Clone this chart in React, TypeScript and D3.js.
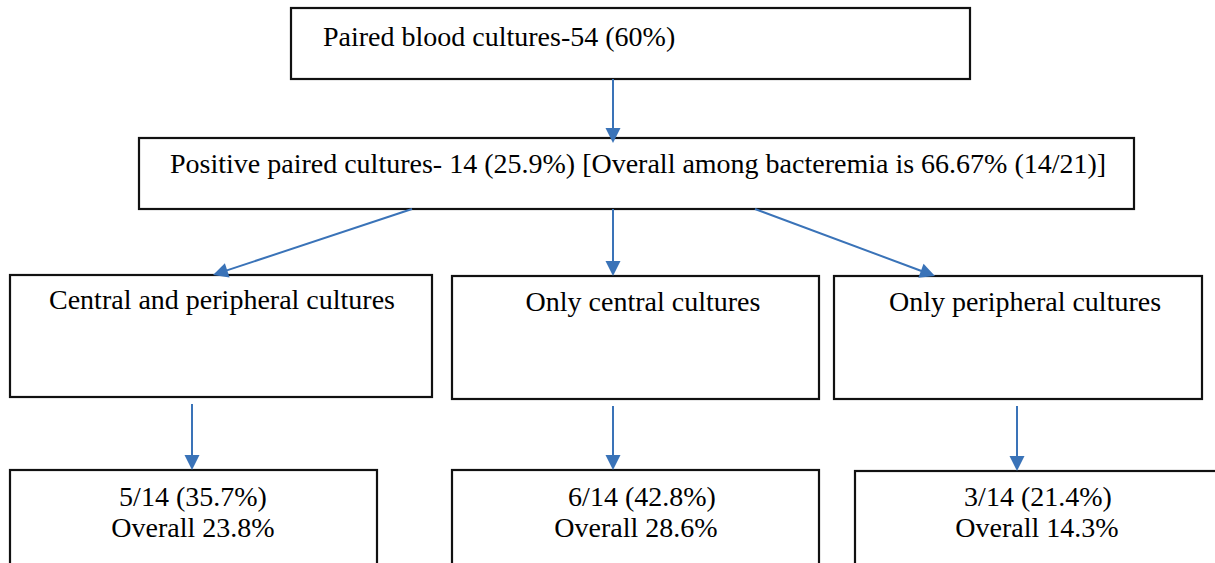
import React, { useEffect, useRef } from 'react';
import * as d3 from 'd3';

// chart text
const topLabel = 'Paired blood cultures-54 (60%)';
const positiveLabel = 'Positive paired cultures- 14 (25.9%) [Overall among bacteremia is 66.67% (14/21)]';
const groupLabels = ['Central and peripheral cultures', 'Only central cultures', 'Only peripheral cultures'];
const groupFractions = ['5/14 (35.7%)', '6/14 (42.8%)', '3/14 (21.4%)'];
const groupOverall = ['Overall 23.8%', 'Overall 28.6%', 'Overall 14.3%'];

const width = 1215;
const height = 563;
const arrowColor = '#3a73b8';
const fontFamily = '"Liberation Serif", "Times New Roman", serif';

// layout (pixels)
const topBox = { x0: 291, y0: 8, x1: 970, y1: 79, tx: 323, ty: 46 };
const posBox = { x0: 139, y0: 138, x1: 1134, y1: 209, tx: 170, ty: 173 };
const groupBoxes = [
    { x0: 10, y0: 275, x1: 432, y1: 397, tx: 222, ty: 309 },
    { x0: 452, y0: 276, x1: 819, y1: 399, tx: 643, ty: 311 },
    { x0: 834, y0: 276, x1: 1202, y1: 399, tx: 1025, ty: 311 },
];
const resultBoxes = [
    { x0: 10, y0: 470, x1: 377, y1: 620, tx: [193, 193], ty: [506, 537] },
    { x0: 452, y0: 470, x1: 819, y1: 620, tx: [642, 636], ty: [506, 537] },
    { x0: 855, y0: 471, x1: 1240, y1: 620, tx: [1038, 1037], ty: [506, 537] },
];
const arrows = [
    [[613, 79], [613, 143]],
    [[412, 209], [213, 275]],
    [[613, 209], [613, 276]],
    [[755, 209], [935, 276]],
    [[192, 404], [192, 470]],
    [[613, 406], [613, 470]],
    [[1017, 406], [1017, 471]],
];

function Flowchart() {
    const ref = useRef(null);

    useEffect(() => {
        const svg = d3.select(ref.current);
        svg.selectAll('*').remove();

        const drawBox = (b) => {
            svg.append('rect')
                .attr('x', b.x0)
                .attr('y', b.y0)
                .attr('width', b.x1 - b.x0)
                .attr('height', b.y1 - b.y0)
                .attr('fill', '#fff')
                .attr('stroke', '#111')
                .attr('stroke-width', 2.2);
        };

        const drawText = (str, x, y, anchor) => {
            svg.append('text')
                .attr('x', x)
                .attr('y', y)
                .attr('text-anchor', anchor)
                .attr('font-family', fontFamily)
                .attr('font-size', 28)
                .attr('fill', '#000')
                .text(str);
        };

        drawBox(topBox);
        drawText(topLabel, topBox.tx, topBox.ty, 'start');
        drawBox(posBox);
        drawText(positiveLabel, posBox.tx, posBox.ty, 'start');

        groupBoxes.forEach((b, i) => {
            drawBox(b);
            drawText(groupLabels[i], b.tx, b.ty, 'middle');
        });
        resultBoxes.forEach((b, i) => {
            drawBox(b);
            drawText(groupFractions[i], b.tx[0], b.ty[0], 'middle');
            drawText(groupOverall[i], b.tx[1], b.ty[1], 'middle');
        });

        // arrows: shaft + triangular head
        const line = d3.line();
        const headLen = 15;
        const headHalf = 7.5;
        arrows.forEach(([from, to]) => {
            const dx = to[0] - from[0];
            const dy = to[1] - from[1];
            const len = Math.hypot(dx, dy);
            const ux = dx / len;
            const uy = dy / len;
            const bx = to[0] - ux * headLen;
            const by = to[1] - uy * headLen;
            svg.append('path')
                .attr('d', line([from, [bx + ux * 2, by + uy * 2]]))
                .attr('stroke', arrowColor)
                .attr('stroke-width', 2)
                .attr('fill', 'none');
            svg.append('path')
                .attr('d', line([
                    to,
                    [bx - uy * headHalf, by + ux * headHalf],
                    [bx + uy * headHalf, by - ux * headHalf],
                ]) + 'Z')
                .attr('fill', arrowColor)
                .attr('stroke', 'none');
        });
    }, []);

    return (
        <svg
            ref={ref}
            width={width}
            height={height}
            style={{ position: 'absolute', left: 0, top: 0, background: '#fff' }}
        />
    );
}

export default function App() {
    return <Flowchart />;
}
